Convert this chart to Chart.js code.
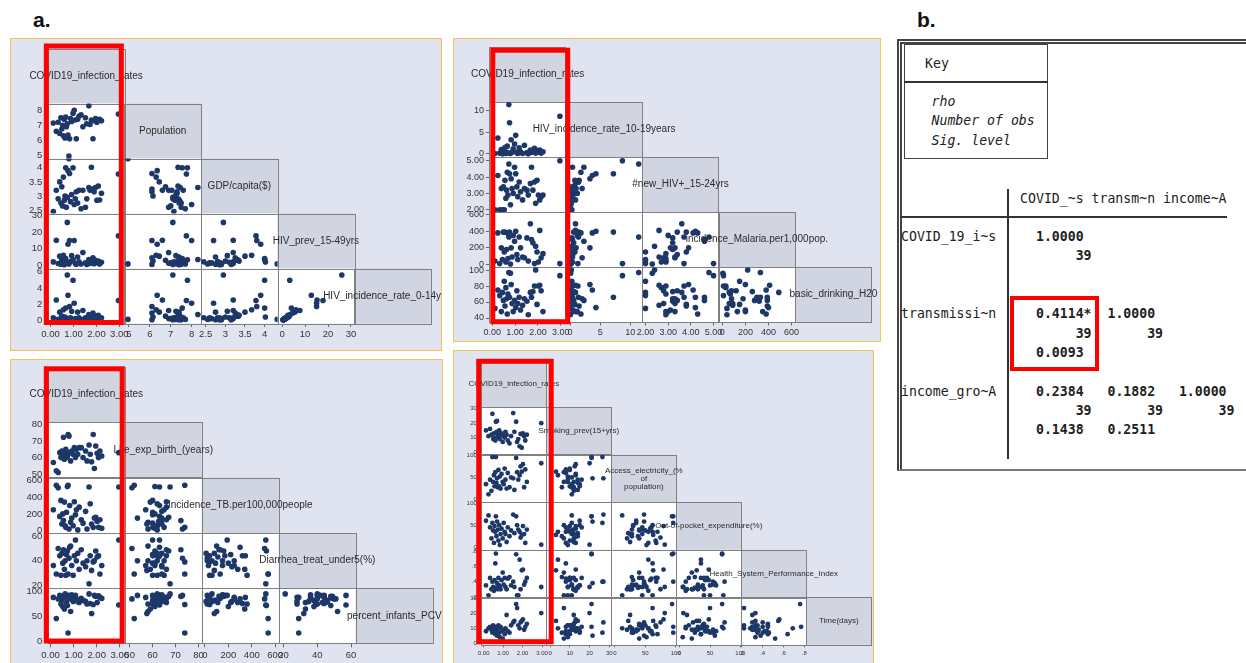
<!DOCTYPE html>
<html>
<head>
<meta charset="utf-8">
<script src="https://cdn.jsdelivr.net/npm/chart.js@4.4.1/dist/chart.umd.min.js"></script>
<style>
body { margin: 0; width: 1246px; height: 663px; overflow: hidden; background: #fff; position: relative; font-family: "Liberation Sans", Arial, sans-serif; }
.panel { position: absolute; background: #e0e4f0; border: 1.5px solid #f2c45a; box-sizing: border-box; }
canvas { position: absolute; }
.tag { position: absolute; font: bold 21px "Liberation Sans", Arial, sans-serif; color: #111; }
#tbl { position: absolute; left: 897px; top: 38.5px; width: 380px; height: 432px; box-sizing: border-box;
       border-left: 5px double #444; border-top: 5px double #444; border-bottom: 2px solid #777; }
.mono { position: absolute; margin: 0; font-family: "DejaVu Sans Mono", monospace; font-size: 13.2px; line-height: 19.3px; color: #222; white-space: pre; }
.mono b { font-weight: bold; }
.line { position: absolute; background: #333; }
</style>
</head>
<body>
<div class="tag" style="left:33px;top:8px">a.</div>
<div class="tag" style="left:917px;top:8px">b.</div>

<div id="tbl"></div>
<div style="position:absolute;left:904px;top:44px;width:144px;height:115px;border:1.5px solid #444;box-sizing:border-box"></div>
<div class="line" style="left:904px;top:81px;width:144px;height:1.5px"></div>
<div class="mono" style="left:925px;top:53.6px">Key</div>
<div class="mono" style="left:931.5px;top:92px;font-style:italic">rho
Number of obs
Sig. level</div>
<div class="line" style="left:1007px;top:189px;width:1.5px;height:270px"></div>
<div class="line" style="left:900px;top:216px;width:327px;height:1.5px"></div>
<div class="mono" style="left:901px;top:188.6px">               COVID_~s transm~n income~A

COVID_19_i~s     <b>1.0000</b>
                      <b>39</b>


transmissi~n     <b>0.4114*  1.0000</b>
                      <b>39       39</b>
                 <b>0.0093</b>

income_gro~A     <b>0.2384   0.1882   1.0000</b>
                      <b>39       39       39</b>
                 <b>0.1438   0.2511</b></div>
<div style="position:absolute;left:1010px;top:296px;width:89px;height:75px;border:4.5px solid #ff0000;box-sizing:border-box"></div>

<script>
// one value per country, same order in every array
const covidRates = [0.12, 0.25, 0.33, 0.40, 0.45, 0.49, 0.53, 0.56, 0.60, 0.63, 0.66, 0.69, 0.73, 0.76, 0.80, 0.83, 0.87, 0.92, 0.98, 1.03,
  1.08, 1.12, 1.18, 1.24, 1.33, 1.41, 1.52, 1.58, 1.67, 1.72, 1.78, 1.85, 1.90, 1.96, 2.02, 2.08, 2.14, 2.22, 2.96];

const population = [7.15, 6.6, 7.2, 6.45, 7.5, 6.75, 7.0, 6.3, 7.4, 6.15, 7.55, 6.9, 7.1, 6.35, 4.95, 6.1, 7.45, 7.25, 7.8, 8.0,
  7.35, 6.1, 7.4, 7.6, 7.7, 6.9, 7.5, 7.1, 8.3, 7.05, 7.35, 6.1, 7.3, 7.45, 7.2, 7.35, 7.4, 7.3, 7.75];
const gdpCapita = [2.45, 3.2, 2.9, 3.5, 2.75, 3.33, 2.65, 3.67, 2.85, 3.0, 4.0, 2.6, 2.95, 3.9, 4.32, 3.8, 2.8, 3.05, 4.0, 2.7,
  2.9, 3.15, 2.75, 3.2, 2.55, 3.2, 2.6, 2.9, 3.3, 3.2, 4.02, 3.25, 3.15, 3.3, 2.85, 3.35, 2.86, 3.1, 3.78];
const hivPrev = [2.0, 15.2, 1.0, 5.5, 0.6, 3.0, 1.5, 6.0, 0.3, 2.5, 4.0, 1.2, 26.0, 12.7, 0.8, 15.0, 2.2, 5.8, 3.3, 15.0,
  1.0, 0.5, 5.0, 2.0, 0.7, 7.7, 1.4, 0.4, 3.5, 1.1, 2.0, 4.5, 0.9, 3.0, 1.6, 2.5, 0.8, 1.8, 17.8];
const hivInc014 = [0.3, 2.5, 0.1, 1.0, 0.05, 0.5, 0.2, 1.3, 0.05, 0.4, 1.5, 0.2, 5.6, 3.1, 0.1, 1.7, 0.3, 1.1, 4.96, 2.1,
  0.2, 0.05, 1.0, 0.3, 0.1, 1.2, 0.3, 0.05, 0.7, 0.2, 0.4, 0.9, 0.1, 0.5, 0.3, 0.6, 0.1, 0.3, 2.45];

const hivInc1019 = [0.1, 3.7, 0.2, 1.0, 0.05, 0.6, 0.3, 1.5, 0.1, 0.4, 1.8, 0.2, 11.4, 7.2, 0.1, 3.3, 0.4, 1.2, 2.3, 4.3,
  0.3, 0.1, 1.4, 0.5, 0.1, 2.0, 0.3, 0.05, 0.9, 0.4, 0.6, 1.3, 0.2, 0.8, 0.4, 0.9, 0.2, 0.5, 8.7];
const newHiv = [2.0, 4.1, 2.0, 3.3, 2.0, 3.4, 2.0, 3.8, 2.7, 3.2, 4.3, 2.9, 4.8, 4.2, 2.3, 3.9, 3.3, 3.0, 4.6, 4.2,
  3.4, 2.8, 3.7, 3.1, 2.6, 3.3, 3.2, 2.9, 3.6, 4.6, 3.2, 3.7, 2.4, 3.8, 2.9, 2.6, 2.8, 2.9, 5.0];
const malaria = [40, 380, 10, 200, 60, 390, 150, 390, 30, 180, 380, 70, 330, 390, 5, 200, 90, 350, 280, 400,
  120, 60, 330, 200, 90, 80, 320, 40, 490, 300, 260, 10, 220, 150, 30, 410, 80, 130, 10];
const drinkingWater = [52, 75, 68, 48, 72, 62, 86, 55, 78, 64, 45, 70, 97, 66, 96, 82, 58, 48, 62, 53,
  74, 58, 66, 50, 56, 64, 61, 44, 72, 66, 73, 80, 100, 57, 80, 81, 74, 48, 93];

const lifeExp = [57, 52, 51, 63, 60, 64, 61, 72.3, 59, 62, 65, 60, 61, 74, 73, 63, 58, 64, 62, 66,
  60, 65, 62, 66, 66, 60, 64, 58, 67.6, 62, 57.5, 74, 53.4, 67, 62.6, 60.1, 64, 61, 63];
const tbIncidence = [250, 540, 510, 170, 360, 80, 200, 120, 340, 60, 40, 220, 525, 540, 20, 300, 100, 150, 60, 345,
  190, 250, 10, 280, 130, 90, 230, 20, 520, 320, 80, 40, 150, 160, 110, 40, 130, 30, 520];
const diarrheaTreat = [36, 29, 50, 44, 28, 46, 38, 49, 33, 40, 28, 45, 48, 29, 42, 51, 52, 36, 28, 44,
  57, 40, 46, 33, 49, 38, 35, 40, 21, 44, 32, 39, 40, 48, 43, 44, 29, 36, 57];
const pcvInfants = [88, 46, 85, 92, 75, 82, 70, 90, 65, 95, 88, 78, 72, 17, 92, 85, 60, 93, 80, 88,
  92, 85, 80, 78, 86, 82, 80, 75, 95, 76, 56, 74, 92, 90, 78, 91, 88, 86, 73];

const smokingPrev = [15, 11, 16, 12, 26.5, 9, 13, 10, 8, 21, 14, 21.5, 12, 10, 15, 9, 12, 13, 7, 11,
  10, 14, 12, 8, 6, 11, 27, 14, 21, 7, 9, 4, 12.5, 3, 13, 11, 8, 12, 20];
const electricity = [35, 12, 45, 20, 96, 40, 55, 30, 62, 96, 38, 48, 28, 67, 30, 52, 25, 58, 40, 35,
  70, 45, 25, 60, 28, 50, 48, 22, 94, 62, 45, 55, 75, 63, 80, 28, 68, 40, 82];
const outOfPocket = [60, 72, 45, 20, 55, 38, 10, 48, 35, 70, 25, 58, 40, 15, 50, 5, 30, 42, 20, 55,
  35, 30, 12, 45, 25, 38, 74, 32, 70, 50, 40, 35, 22, 28, 48, 30, 10, 40, 6];
const hspIndex = [0.35, 0.22, 0.45, 0.3, 0.4, 0.33, 0.28, 0.42, 0.64, 0.77, 0.32, 0.38, 0.3, 0.45, 0.35, 0.33, 0.3, 0.42, 0.52, 0.36,
  0.45, 0.33, 0.3, 0.44, 0.46, 0.35, 0.4, 0.33, 0.76, 0.22, 0.22, 0.69, 0.3, 0.55, 0.56, 0.36, 0.4, 0.45, 0.33];
const timeDays = [8, 10, 11, 9, 7, 12, 10, 8, 6, 11, 9, 5, 10, 12, 7, 4, 11, 8, 3, 9,
  6, 10, 19, 8, 7, 12, 14, 15, 26.4, 23.7, 12, 10, 14, 15, 16, 9, 11, 13, 20.3];

// tick labels of each variable
const covidTicks = [0, 1, 2, 3];
const populationTicks = [5, 6, 7, 8];
const gdpTicks = [2.5, 3, 3.5, 4];
const hivPrevTicks = [0, 10, 20, 30];
const hivInc014Ticks = [0, 2, 4, 6];
const hivInc1019Ticks = [0, 5, 10];
const newHivTicks = [2, 3, 4, 5];
const malariaTicks = [0, 200, 400, 600];
const waterTicks = [40, 60, 80, 100];
const lifeTicks = [50, 60, 70, 80];
const tbTicks = [0, 200, 400, 600];
const diarrheaTicks = [20, 40, 60];
const pcvTicks = [0, 50, 100];
const smokingTicks = [0, 10, 20, 30];
const electricityTicks = [0, 50, 100];
const oopTicks = [0, 50, 100];
const hspiTicks = [0.2, 0.4, 0.6, 0.8];
const timeTicks = [0, 10, 20, 30];

const f2 = v => v.toFixed(2);
const fPlain = v => String(v);
const fDot = v => String(v).replace(/^0/, '');

const vars = {
  covid: { label: 'COVID19_infection_rates', data: covidRates, range: [-0.12, 3.22], ticks: covidTicks, fmt: f2 },
  population: { label: 'Population', data: population, range: [4.78, 8.45], ticks: populationTicks, fmt: fPlain },
  gdp: { label: 'GDP/capita($)', data: gdpCapita, range: [2.38, 4.33], ticks: gdpTicks, fmt: fPlain },
  hivPrev: { label: 'HIV_prev_15-49yrs', data: hivPrev, range: [-2, 31.4], ticks: hivPrevTicks, fmt: fPlain },
  hivInc014: { label: 'HIV_incidence_rate_0-14y', data: hivInc014, range: [-0.41, 6.41], ticks: hivInc014Ticks, fmt: fPlain },
  hivInc1019: { label: 'HIV_incidence_rate_10-19years', data: hivInc1019, range: [-0.7, 12], ticks: hivInc1019Ticks, fmt: fPlain },
  newHiv: { label: '#new_HIV+_15-24yrs', data: newHiv, range: [1.86, 5.23], ticks: newHivTicks, fmt: f2 },
  malaria: { label: 'incidence_Malaria.per1,000pop.', data: malaria, range: [-31, 632], ticks: malariaTicks, fmt: fPlain },
  water: { label: 'basic_drinking_H20', data: drinkingWater, range: [35, 103.8], ticks: waterTicks, fmt: fPlain },
  life: { label: 'Life_exp_birth_(years)', data: lifeExp, range: [47.9, 81.4], ticks: lifeTicks, fmt: fPlain },
  tb: { label: 'Incidence_TB.per100,000people', data: tbIncidence, range: [-27, 631], ticks: tbTicks, fmt: fPlain },
  diarrhea: { label: 'Diarrhea_treat_under5(%)', data: diarrheaTreat, range: [17.2, 62.8], ticks: diarrheaTicks, fmt: fPlain },
  pcv: { label: 'percent_infants_PCV', data: pcvInfants, range: [-4.6, 106], ticks: pcvTicks, fmt: fPlain },
  smoking: { label: 'Smoking_prev(15+yrs)', data: smokingPrev, range: [-1.9, 31], ticks: smokingTicks, fmt: fPlain },
  electricity: { label: 'Access_electricity_(%\nof\npopulation)', data: electricity, range: [-5.9, 101], ticks: electricityTicks, fmt: fPlain },
  oop: { label: 'Out-of-pocket_expenditure(%)', data: outOfPocket, range: [-5.6, 101.6], ticks: oopTicks, fmt: fPlain },
  hspi: { label: 'Health_System_Performance_Index', data: hspIndex, range: [0.194, 0.82], ticks: hspiTicks, fmt: fDot },
  time: { label: 'Time(days)', data: timeDays, range: [-1.2, 31], ticks: timeTicks, fmt: fPlain }
};

// layout of the four matrices (page pixels)
const panels = [
  { box: [9.5, 37.5, 442, 351], left: 47.3, top: 48, cw: 76.6, rh: 55,
    vars: ['covid', 'population', 'gdp', 'hivPrev', 'hivInc014'],
    labFont: 10, tickFont: 9.5, dot: 2.8, tickLen: 3.5, tickPad: 2, red: [-1.5, -2.5, -3.1, -1] },
  { box: [453, 38, 881, 342], left: 489.4, top: 47, cw: 76.45, rh: 55,
    vars: ['covid', 'hivInc1019', 'newHiv', 'malaria', 'water'],
    labFont: 10, tickFont: 9, dot: 2.8, tickLen: 3.5, tickPad: 2, red: [3.4, 3.2, 1.9, -0.3] },
  { box: [9.5, 358.5, 443, 664], left: 47.3, top: 366.3, cw: 77, rh: 55.4,
    vars: ['covid', 'life', 'tb', 'diarrhea', 'pcv'],
    labFont: 10, tickFont: 9.5, dot: 2.8, tickLen: 3.5, tickPad: 2, red: [-1.5, 2, -2.6, -2.8] },
  { box: [453, 350, 873.5, 664], left: 481.3, top: 359.8, cw: 65, rh: 47.5,
    vars: ['covid', 'smoking', 'electricity', 'oop', 'hspi', 'time'],
    labFont: 8, tickFont: 6, dot: 2.4, tickLen: 2.5, tickPad: 2, red: [-2.6, 1.5, 4.9, -3.1] }
];

const EXTRA = 10;

function axisOptions(v, dir, i, n, p, size) {
  const shown = dir === 'x' ? i < n - 1 : i > 0;
  return {
    type: 'linear',
    axis: dir,
    position: dir === 'x' ? 'bottom' : 'left',
    stack: 'stack-' + dir,
    stackWeight: 1,
    weight: dir === 'x' ? i : n - i,
    min: v.range[0],
    max: v.range[1],
    afterBuildTicks: s => { s.ticks = v.ticks.map(t => ({ value: t })); },
    afterFit: s => { if (dir === 'x') s.height = size; else s.width = size; },
    grid: { display: shown, drawOnChartArea: false, drawTicks: true, tickLength: p.tickLen, color: '#666' },
    border: { display: false },
    ticks: {
      display: shown, autoSkip: false, maxRotation: 0, minRotation: 0,
      padding: p.tickPad, color: '#333',
      font: { family: 'Liberation Sans', size: p.tickFont },
      callback: val => v.fmt(val)
    }
  };
}

function cellBox(chart, r, c) {
  const xs = chart.scales['x' + c], ys = chart.scales['y' + r];
  return { l: xs.left, r: xs.right, t: ys.top, b: ys.bottom };
}

function matrixPlugin(p, canvasLeft) {
  const n = p.vars.length;
  return {
    id: 'matrixCells',
    beforeDatasetsDraw(chart) {
      const ctx = chart.ctx;
      ctx.save();
      for (let r = 0; r < n; r++) {
        for (let c = 0; c <= r; c++) {
          const b = cellBox(chart, r, c);
          ctx.fillStyle = r === c ? '#d0d5e1' : '#ffffff';
          ctx.fillRect(b.l, b.t, b.r - b.l, b.b - b.t);
        }
      }
      ctx.strokeStyle = '#808080';
      ctx.lineWidth = 1;
      for (let r = 0; r < n; r++) {
        for (let c = 0; c <= r; c++) {
          const b = cellBox(chart, r, c);
          ctx.strokeRect(Math.round(b.l) + 0.5, Math.round(b.t) + 0.5, Math.round(b.r - b.l), Math.round(b.b - b.t));
        }
      }
      ctx.restore();
    },
    afterDatasetsDraw(chart) {
      const ctx = chart.ctx;
      ctx.save();
      ctx.fillStyle = '#2a2a2a';
      ctx.font = p.labFont + 'px "Liberation Sans"';
      ctx.textAlign = 'center';
      ctx.textBaseline = 'middle';
      const limit = p.box[2] - canvasLeft - 1.5;
      p.vars.forEach((key, i) => {
        const b = cellBox(chart, i, i);
        const lines = vars[key].label.split('\n');
        const lh = p.labFont * 1.0;
        let cx = (b.l + b.r) / 2;
        const w = Math.max(...lines.map(s => ctx.measureText(s).width));
        if (cx + w / 2 > limit) cx = limit - w / 2;
        const cy = (b.t + b.b) / 2 - (lines.length - 1) * lh / 2;
        lines.forEach((s, k) => ctx.fillText(s, cx, cy + k * lh));
      });
      // red highlight around the first column
      const top = cellBox(chart, 0, 0), bot = cellBox(chart, n - 1, 0);
      const l = top.l + p.red[0], t = top.t + p.red[1], r = top.r + p.red[2], bb = bot.b + p.red[3];
      ctx.strokeStyle = '#ff0000';
      ctx.lineWidth = 5;
      ctx.strokeRect(l, t, r - l, bb - t);
      ctx.restore();
    }
  };
}

function buildPanel(p) {
  const n = p.vars.length;
  const [bl, bt, br, bb] = p.box;
  const bg = document.createElement('div');
  bg.className = 'panel';
  Object.assign(bg.style, { left: bl + 'px', top: bt + 'px', width: (br - bl) + 'px', height: (bb - bt) + 'px' });
  document.body.appendChild(bg);

  const cLeft = bl, cTop = bt - EXTRA;
  const cWidth = Math.ceil(br - bl + EXTRA), cHeight = Math.ceil(bb - bt + EXTRA);
  const canvas = document.createElement('canvas');
  canvas.width = cWidth;
  canvas.height = cHeight;
  Object.assign(canvas.style, { left: cLeft + 'px', top: cTop + 'px', width: cWidth + 'px', height: cHeight + 'px' });
  document.body.appendChild(canvas);

  const gridRight = p.left + n * p.cw;
  const gridBottom = p.top + n * p.rh;
  const yWidth = p.left - cLeft;
  const xHeight = cTop + cHeight - gridBottom;

  const scales = {};
  p.vars.forEach((key, i) => {
    scales['x' + i] = axisOptions(vars[key], 'x', i, n, p, xHeight);
    scales['y' + i] = axisOptions(vars[key], 'y', i, n, p, yWidth);
  });

  const datasets = [];
  for (let r = 1; r < n; r++) {
    for (let c = 0; c < r; c++) {
      const xs = vars[p.vars[c]].data, ys = vars[p.vars[r]].data;
      datasets.push({
        data: xs.map((x, k) => ({ x: x, y: ys[k] })),
        xAxisID: 'x' + c,
        yAxisID: 'y' + r,
        backgroundColor: '#1e3769',
        borderWidth: 0,
        pointRadius: p.dot,
        pointHoverRadius: p.dot
      });
    }
  }

  new Chart(canvas.getContext('2d'), {
    type: 'scatter',
    data: { datasets: datasets },
    options: {
      responsive: false,
      animation: false,
      events: [],
      layout: { padding: { left: 0, top: p.top - cTop, right: cLeft + cWidth - gridRight, bottom: 0 } },
      scales: scales,
      plugins: { legend: { display: false }, tooltip: { enabled: false } }
    },
    plugins: [matrixPlugin(p, cLeft)]
  });
}

panels.forEach(buildPanel);
</script>
</body>
</html>
